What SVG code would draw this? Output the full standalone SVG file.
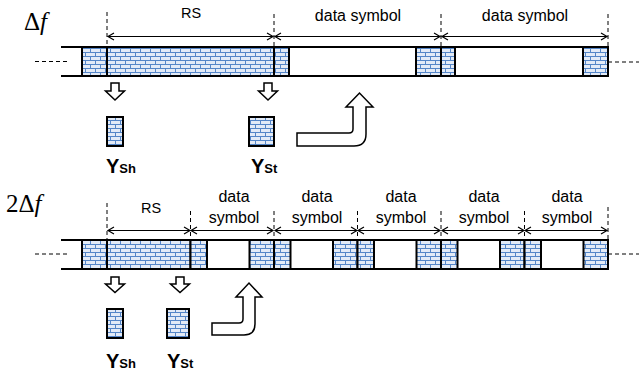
<svg xmlns="http://www.w3.org/2000/svg" width="639" height="376" viewBox="0 0 639 376">
<style>
.band{fill:#fff;stroke:#000;stroke-width:2}
.blk{fill:url(#brick);stroke:#000;stroke-width:2}
.ln{stroke:#000;stroke-width:2;fill:none}
.dash{stroke:#000;stroke-width:1;stroke-dasharray:4 3;fill:none}
.dim{stroke:#000;stroke-width:1.2;fill:none}
.bar{fill:#fff;stroke:#000;stroke-width:1.5;stroke-linejoin:miter}
.t{font-family:"Liberation Sans",Arial,sans-serif;font-size:16px;fill:#000;text-anchor:middle}
.rs{font-size:14.5px}
.y{font-family:"Liberation Sans",Arial,sans-serif;font-weight:bold;font-size:20px;fill:#000}
.sub{font-size:13px}
.m{font-family:"Liberation Serif","DejaVu Serif",serif;font-size:25px;fill:#000}
</style>
<defs>
<pattern id="brick" patternUnits="userSpaceOnUse" width="10" height="8">
<rect width="10" height="8" fill="#e3ebf7"/>
<path d="M0,0.5H10M0,4.5H10M0.5,0.5V4.5M5.5,4.5V8" stroke="#5586c8" stroke-width="1" fill="none"/>
</pattern>
<marker id="ae" markerWidth="10" markerHeight="10" refX="8" refY="5" orient="auto" markerUnits="userSpaceOnUse">
<path d="M2,1.5L8,5L2,8.5" fill="none" stroke="#000" stroke-width="1.2"/>
</marker>
<marker id="as" markerWidth="10" markerHeight="10" refX="2" refY="5" orient="auto" markerUnits="userSpaceOnUse">
<path d="M8,1.5L2,5L8,8.5" fill="none" stroke="#000" stroke-width="1.2"/>
</marker>
</defs>

<g id="row1">
<text class="m" x="24" y="30">Δ<tspan font-style="italic">f</tspan></text>
<g id="row1-frame">
<path class="ln" d="M61,47H82M61,76H82"/>
<path class="dash" d="M35,61.5H69M608,62H639"/>
<rect class="band" x="82" y="47" width="526" height="29"/>
</g>
<g id="row1-pre"><rect class="blk" x="82" y="47" width="25" height="29"/></g>
<g id="row1-rs"><rect class="blk" x="107" y="47" width="167" height="29"/></g>
<g id="row1-sym1">
<rect class="blk" x="274" y="47" width="15" height="29"/>
<rect class="blk" x="416" y="47" width="25" height="29"/>
</g>
<g id="row1-sym2">
<rect class="blk" x="441" y="47" width="14" height="29"/>
<rect class="blk" x="583" y="47" width="25" height="29"/>
</g>
<g id="row1-dims">
<path class="dash" d="M107,12V47M274,14V47M441,14V47M608,14V47"/>
<path class="dim" marker-start="url(#as)" marker-end="url(#ae)" d="M108,36.5H273"/>
<path class="dim" marker-start="url(#as)" marker-end="url(#ae)" d="M275,36.5H440"/>
<path class="dim" marker-start="url(#as)" marker-end="url(#ae)" d="M442,36.5H607"/>
<text class="t rs" x="191" y="18">RS</text>
<text class="t" x="358" y="21">data symbol</text>
<text class="t" x="525" y="21">data symbol</text>
</g>
<g id="row1-ysh">
<path class="bar" d="M111,83H119V91H124.5L115,100L105.5,91H111Z"/>
<rect class="blk" x="107" y="117" width="16" height="29"/>
<text class="y" x="106" y="173">Y<tspan class="sub">Sh</tspan></text>
</g>
<g id="row1-yst">
<path class="bar" d="M264,83H272V91H277.5L268,100L258.5,91H264Z"/>
<rect class="blk" x="249" y="117" width="25" height="29"/>
<text class="y" x="251" y="173">Y<tspan class="sub">St</tspan></text>
</g>
<g id="row1-arrow">
<path class="bar" d="M297,133H349Q353,133 353,129V107H346L359.5,93L373,107H366V134Q366,146 354,146H297Z"/>
</g>
</g>

<g id="row2">
<text class="m" x="6" y="212">2Δ<tspan font-style="italic">f</tspan></text>
<g id="row2-frame">
<path class="ln" d="M61,240H82M61,269H82"/>
<path class="dash" d="M35,254H69M608,254H639"/>
<rect class="band" x="82" y="240" width="526" height="29"/>
</g>
<g id="row2-pre"><rect class="blk" x="82" y="240" width="25" height="29"/></g>
<g id="row2-rs"><rect class="blk" x="107" y="240" width="83.5" height="29"/></g>
<g id="row2-sym1"><rect class="blk" x="190.5" y="240" width="16.5" height="29"/><rect class="blk" x="249.5" y="240" width="24.5" height="29"/></g>
<g id="row2-sym2"><rect class="blk" x="274" y="240" width="16.5" height="29"/><rect class="blk" x="333" y="240" width="24.5" height="29"/></g>
<g id="row2-sym3"><rect class="blk" x="357.5" y="240" width="16.5" height="29"/><rect class="blk" x="416.5" y="240" width="24.5" height="29"/></g>
<g id="row2-sym4"><rect class="blk" x="441" y="240" width="16.5" height="29"/><rect class="blk" x="500" y="240" width="24.5" height="29"/></g>
<g id="row2-sym5"><rect class="blk" x="524.5" y="240" width="16.5" height="29"/><rect class="blk" x="583.5" y="240" width="24.5" height="29"/></g>
<g id="row2-labels">
<text class="t rs" x="151" y="213">RS</text>
<text class="t" x="234" y="202">data</text><text class="t" x="234" y="223">symbol</text>
<text class="t" x="317" y="202">data</text><text class="t" x="317" y="223">symbol</text>
<text class="t" x="401" y="202">data</text><text class="t" x="401" y="223">symbol</text>
<text class="t" x="484" y="202">data</text><text class="t" x="484" y="223">symbol</text>
<text class="t" x="567" y="202">data</text><text class="t" x="567" y="223">symbol</text>
</g>
<g id="row2-dims">
<path class="dash" d="M107,203V240M190.5,211V240M274,211V240M357.5,211V240M441,211V240M524.5,211V240M608,207V240"/>
<path class="dim" marker-start="url(#as)" marker-end="url(#ae)" d="M108,230.5H190"/>
<path class="dim" marker-start="url(#as)" marker-end="url(#ae)" d="M191,230.5H273"/>
<path class="dim" marker-start="url(#as)" marker-end="url(#ae)" d="M275,230.5H357"/>
<path class="dim" marker-start="url(#as)" marker-end="url(#ae)" d="M358,230.5H440"/>
<path class="dim" marker-start="url(#as)" marker-end="url(#ae)" d="M442,230.5H524"/>
<path class="dim" marker-start="url(#as)" marker-end="url(#ae)" d="M525,230.5H607"/>
</g>
<g id="row2-ysh">
<path class="bar" d="M111,277H119V284H124.5L115,292.5L105.5,284H111Z"/>
<rect class="blk" x="107" y="309" width="16" height="29"/>
<text class="y" x="106" y="368">Y<tspan class="sub">Sh</tspan></text>
</g>
<g id="row2-yst">
<path class="bar" d="M176,277H184V284H189.5L180,292.5L170.5,284H176Z"/>
<rect class="blk" x="167" y="309" width="22" height="29"/>
<text class="y" x="167" y="368">Y<tspan class="sub">St</tspan></text>
</g>
<g id="row2-arrow">
<path class="bar" d="M212,323H239Q243,323 243,319V297H236L249,283L262,297H255V324Q255,335 244,335H212Z"/>
</g>
</g>
</svg>
